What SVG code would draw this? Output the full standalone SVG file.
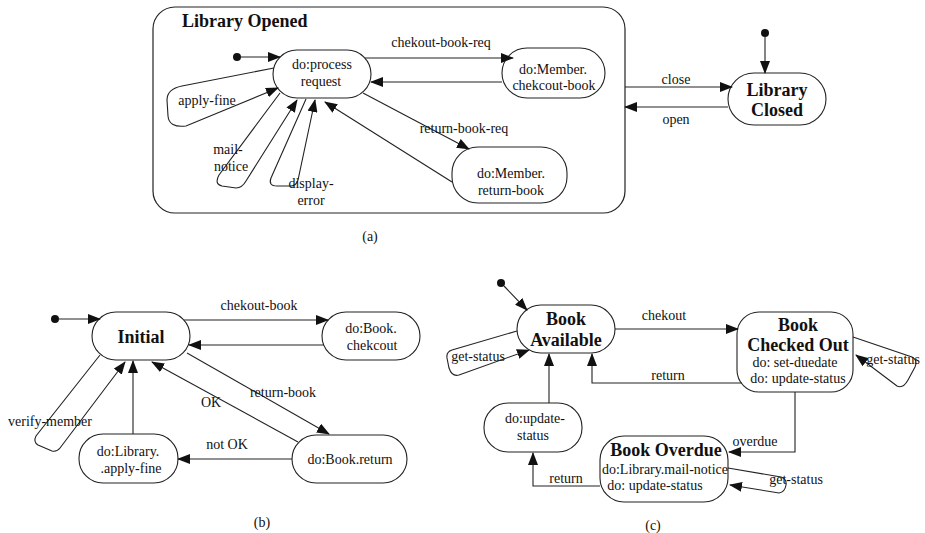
<svg xmlns="http://www.w3.org/2000/svg" width="925" height="533" viewBox="0 0 925 533">
  <defs>
    <marker id="ah" markerWidth="13" markerHeight="10" refX="12" refY="5" orient="auto" markerUnits="userSpaceOnUse">
      <path d="M0,0 L13,5 L0,10 z" fill="#111"/>
    </marker>
    <style>
      .edge { fill: none; stroke: #222; stroke-width: 1.1; }
      .arr { marker-end: url(#ah); }
      .node { fill: #fff; stroke: #222; stroke-width: 1.1; }
      .frame { fill: none; stroke: #222; stroke-width: 1.2; }
      .dot { fill: #111; }
      text { font-family: "Liberation Serif", "Times New Roman", serif; font-size: 14px; fill: #111; text-anchor: middle; }
      .b { font-weight: bold; font-size: 18px; }
      .l { text-anchor: start; }
    </style>
  </defs>

  <!-- (a) library states -->
  <g id="library-opened">
    <rect class="frame" x="153" y="7" width="472" height="206" rx="22"/>
    <text class="b l" x="182" y="27">Library Opened</text>
  </g>
  <g id="process-request">
    <rect class="node" x="273" y="50" width="98" height="48" rx="24"/>
    <text x="322" y="69">do:process</text>
    <text x="321" y="86">request</text>
  </g>
  <g id="member-checkout-book">
    <rect class="node" x="502" y="48" width="103" height="50" rx="25"/>
    <text x="553" y="74">do:Member.</text>
    <text x="554" y="90">chekcout-book</text>
  </g>
  <g id="member-return-book">
    <rect class="node" x="452" y="147" width="115" height="56" rx="26"/>
    <text x="511" y="178">do:Member.</text>
    <text x="511" y="195">return-book</text>
  </g>
  <g id="library-closed">
    <rect class="node" x="728" y="73" width="98" height="52" rx="26"/>
    <text class="b" x="777" y="96">Library</text>
    <text class="b" x="777" y="116">Closed</text>
  </g>

  <!-- (b) member states -->
  <g id="initial">
    <rect class="node" x="92" y="312" width="98" height="48" rx="24"/>
    <text class="b" x="141" y="343">Initial</text>
  </g>
  <g id="book-checkout">
    <rect class="node" x="322" y="312" width="98" height="48" rx="24"/>
    <text x="371" y="333">do:Book.</text>
    <text x="372" y="350">chekcout</text>
  </g>
  <g id="book-return">
    <rect class="node" x="292" y="435" width="115" height="48" rx="24"/>
    <text x="350" y="464">do:Book.return</text>
  </g>
  <g id="library-apply-fine">
    <rect class="node" x="79" y="434" width="99" height="49" rx="24"/>
    <text x="128" y="456">do:Library.</text>
    <text x="131" y="473">.apply-fine</text>
  </g>

  <!-- (c) book states -->
  <g id="book-available">
    <rect class="node" x="517" y="305" width="98" height="48" rx="24"/>
    <text class="b" x="566" y="325">Book</text>
    <text class="b" x="566" y="346">Available</text>
  </g>
  <g id="book-checked-out">
    <rect class="node" x="737" y="312" width="116" height="80" rx="22"/>
    <text class="b" x="798" y="331">Book</text>
    <text class="b" x="798" y="351">Checked Out</text>
    <text x="795" y="367">do: set-duedate</text>
    <text x="798" y="383">do: update-status</text>
  </g>
  <g id="update-status">
    <rect class="node" x="484" y="403" width="98" height="49" rx="24"/>
    <text x="535" y="423">do:update-</text>
    <text x="533" y="440">status</text>
  </g>
  <g id="book-overdue">
    <rect class="node" x="600" y="436" width="128" height="66" rx="24"/>
    <text class="b" x="666" y="456">Book Overdue</text>
    <text x="665" y="474" textLength="126" lengthAdjust="spacingAndGlyphs">do:Library.mail-notice</text>
    <text x="655" y="490">do: update-status</text>
  </g>

  <!-- initial pseudo-states -->
  <g id="starts">
    <circle class="dot" cx="237" cy="57" r="4"/>
    <circle class="dot" cx="765" cy="33" r="4"/>
    <circle class="dot" cx="55" cy="319" r="4"/>
    <circle class="dot" cx="501" cy="283" r="4"/>
  </g>

  <g id="connectors">
    <!-- (a) -->
    <path class="edge arr" d="M241,57 L280,57"/>
    <path class="edge arr" d="M365,58 L513,58"/>
    <text x="441" y="47">chekout-book-req</text>
    <path class="edge arr" d="M502,82 L371,82"/>
    <path class="edge arr" d="M363,93 L469,149"/>
    <text x="464" y="133">return-book-req</text>
    <path class="edge arr" d="M452,182 L325,102"/>
    <path class="edge arr" d="M274,68 L182,86 Q167,89 167,100 L168,116 Q169,128 186,126 L278,88"/>
    <text x="207" y="105">apply-fine</text>
    <path class="edge arr" d="M280,93 L219,175 Q214,184 222,186 L236,188 Q242,188 246,181 L297,100"/>
    <text x="228" y="154">mail-</text>
    <text x="231" y="171">notice</text>
    <path class="edge arr" d="M306,99 L271,178 Q268,186 277,186 L291,186 Q296,186 298,180 L315,100"/>
    <text x="311" y="188">display-</text>
    <text x="311" y="205">error</text>
    <path class="edge arr" d="M765,37 L765,73"/>
    <path class="edge arr" d="M625,87 L732,87"/>
    <text x="676" y="84">close</text>
    <path class="edge arr" d="M728,107 L625,107"/>
    <text x="676" y="124">open</text>

    <!-- (b) -->
    <path class="edge arr" d="M59,319 L100,319"/>
    <path class="edge arr" d="M184,320 L328,320"/>
    <text x="259" y="310">chekout-book</text>
    <path class="edge arr" d="M324,345 L189,345"/>
    <path class="edge arr" d="M187,353 L329,434"/>
    <text x="283" y="397">return-book</text>
    <path class="edge arr" d="M298,442 L152,362"/>
    <text x="211" y="407">OK</text>
    <path class="edge arr" d="M292,459 L178,459"/>
    <text x="227" y="449">not OK</text>
    <path class="edge arr" d="M133,434 L133,361"/>
    <path class="edge arr" d="M100,355 L36,436 Q33,442 38,445 L52,451 Q57,452 60,448 L125,362"/>
    <text x="50" y="426">verify-member</text>

    <!-- (c) -->
    <path class="edge arr" d="M504,286 L527,310"/>
    <path class="edge arr" d="M615,329 L738,329"/>
    <text x="664" y="320">chekout</text>
    <path class="edge arr" d="M742,383 L592,383 L592,354"/>
    <text x="668" y="380">return</text>
    <path class="edge arr" d="M853,337 L912,357 Q918,360 915,367 L908,380 Q903,389 897,386 L856,355"/>
    <text x="893" y="364">get-status</text>
    <path class="edge arr" d="M795,392 L795,452 L729,452"/>
    <text x="755" y="446">overdue</text>
    <path class="edge arr" d="M728,468 L781,477 Q787,479 786,485 Q785,492 779,493 L730,485"/>
    <text x="796" y="484">get-status</text>
    <path class="edge arr" d="M600,486 L533,486 L533,453"/>
    <text x="566" y="483">return</text>
    <path class="edge arr" d="M549,403 L549,354"/>
    <path class="edge arr" d="M517,331 L452,350 Q446,352 447,358 L449,368 Q452,377 459,375 L529,350"/>
    <text x="478" y="361">get-status</text>
  </g>

  <g id="captions">
    <text x="370" y="241">(a)</text>
    <text x="262" y="527">(b)</text>
    <text x="653" y="530">(c)</text>
  </g>
</svg>
